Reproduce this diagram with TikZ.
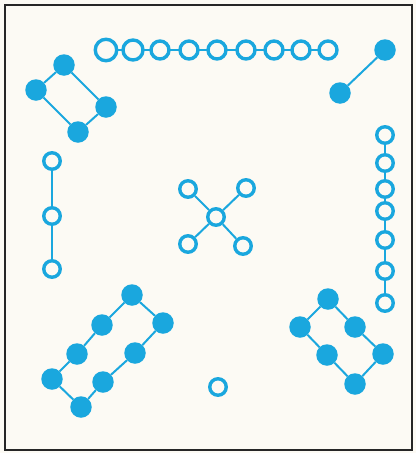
\documentclass[tikz,border=0pt]{standalone}
\begin{document}
\begin{tikzpicture}[x=1pt,y=-1pt,
  hol/.style={circle,draw=molc,line width=3.4pt,fill=bgc,minimum size=16.5pt,inner sep=0pt},
  ful/.style={circle,fill=molc,minimum size=21.5pt,inner sep=0pt},
  bnd/.style={draw=molc,line width=2pt}]
\definecolor{molc}{RGB}{26,167,222}
\definecolor{bgc}{RGB}{252,250,244}
\useasboundingbox (0,0) rectangle (416,453);
\fill[bgc] (0,0) rectangle (416,453);
\draw[line width=2.2pt,black!85] (5,5) rectangle (412,450);
% top chain
\foreach \i/\x in {1/106,2/133,3/160,4/189,5/217,6/246,7/274,8/301,9/328}
  \coordinate (t\i) at (\x,50);
\foreach \i/\j in {1/2,2/3,3/4,4/5,5/6,6/7,7/8,8/9} \draw[bnd] (t\i) -- (t\j);
\node[hol,minimum size=21.5pt] (T1) at (t1) {};
\node[hol,minimum size=20pt] (T2) at (t2) {};
\foreach \i in {3,...,9} \node[hol,minimum size=18pt] (T\i) at (t\i) {};
% top right pair
\node[ful] (p1) at (385,50) {};
\node[ful] (p2) at (340,93) {};
\draw[bnd] (p1) -- (p2);
% left ring of four
\node[ful] (a1) at (64,65) {};
\node[ful] (a2) at (36,90) {};
\node[ful] (a3) at (106,107) {};
\node[ful] (a4) at (78,132) {};
\draw[bnd] (a1) -- (a2) (a1) -- (a3) (a2) -- (a4) (a3) -- (a4);
% right vertical chain
\foreach \i/\y in {1/135,2/163,3/189,4/211,5/240,6/271,7/303}
  \node[hol] (r\i) at (385,\y) {};
\foreach \i/\j in {1/2,2/3,3/4,4/5,5/6,6/7} \draw[bnd] (r\i) -- (r\j);
% left vertical chain
\node[hol] (l1) at (52,161) {};
\node[hol] (l2) at (52,216) {};
\node[hol] (l3) at (52,269) {};
\draw[bnd] (l1) -- (l2) (l2) -- (l3);
% cross
\node[hol] (c0) at (216,217) {};
\node[hol] (c1) at (188,189) {};
\node[hol] (c2) at (246,188) {};
\node[hol] (c3) at (188,244) {};
\node[hol] (c4) at (243,246) {};
\foreach \i in {1,...,4} \draw[bnd] (c0) -- (c\i);
% bottom left ring of eight
\node[ful] (b1) at (132,295) {};
\node[ful] (b2) at (102,325) {};
\node[ful] (b3) at (77,354) {};
\node[ful] (b4) at (52,379) {};
\node[ful] (b5) at (81,407) {};
\node[ful] (b6) at (103,382) {};
\node[ful] (b7) at (135,353) {};
\node[ful] (b8) at (163,323) {};
\draw[bnd] (b1) -- (b2) -- (b3) -- (b4) -- (b5) -- (b6) -- (b7) -- (b8) -- (b1);
% bottom right ring of six
\node[ful] (d1) at (328,299) {};
\node[ful] (d2) at (300,327) {};
\node[ful] (d3) at (327,355) {};
\node[ful] (d4) at (355,384) {};
\node[ful] (d5) at (383,354) {};
\node[ful] (d6) at (355,327) {};
\draw[bnd] (d1) -- (d2) -- (d3) -- (d4) -- (d5) -- (d6) -- (d1);
% lone atom
\node[hol] (s) at (218,387) {};
\end{tikzpicture}
\end{document}
